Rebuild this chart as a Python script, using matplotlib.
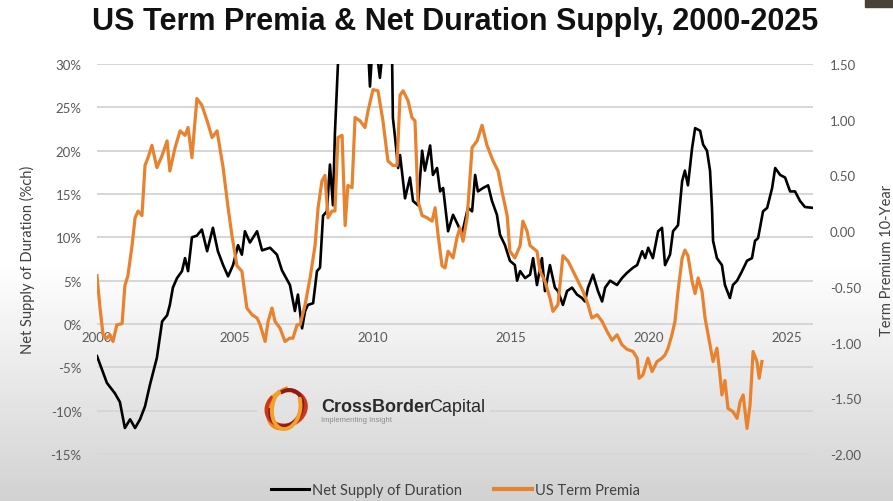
import numpy as np
import matplotlib.pyplot as plt
from matplotlib.patches import Rectangle, Arc

# Net supply of duration (%ch), left axis
supplyYears = [2000.00, 2000.36, 2000.65, 2000.83, 2001.01, 2001.20, 2001.38, 2001.56, 2001.74, 2001.92,
               2002.17, 2002.36, 2002.54, 2002.64, 2002.75, 2002.90, 2003.08, 2003.19, 2003.30, 2003.44,
               2003.62, 2003.80, 2003.99, 2004.20, 2004.38, 2004.57, 2004.75, 2004.93, 2005.11, 2005.25,
               2005.36, 2005.54, 2005.80, 2005.98, 2006.27, 2006.52, 2006.70, 2006.99, 2007.17, 2007.28,
               2007.43, 2007.54, 2007.64, 2007.83, 2007.97, 2008.08, 2008.19, 2008.33, 2008.44, 2008.55,
               2008.62, 2008.73, 2008.90, 2009.10, 2009.40, 2009.70, 2009.82, 2009.89, 2010.00, 2010.15,
               2010.25, 2010.40, 2010.60, 2010.69, 2010.72, 2010.80, 2010.91, 2010.98, 2011.16, 2011.34,
               2011.45, 2011.63, 2011.78, 2011.88, 2012.07, 2012.17, 2012.32, 2012.43, 2012.54, 2012.72,
               2012.90, 2013.08, 2013.22, 2013.33, 2013.44, 2013.59, 2013.70, 2013.80, 2013.99, 2014.17,
               2014.31, 2014.49, 2014.60, 2014.78, 2014.96, 2015.14, 2015.22, 2015.33, 2015.51, 2015.69,
               2015.80, 2015.94, 2016.12, 2016.23, 2016.41, 2016.59, 2016.70, 2016.88, 2017.03, 2017.21,
               2017.39, 2017.57, 2017.68, 2017.79, 2017.97, 2018.15, 2018.30, 2018.41, 2018.59, 2018.84,
               2019.02, 2019.20, 2019.42, 2019.57, 2019.75, 2019.86, 2019.97, 2020.14, 2020.33, 2020.47,
               2020.58, 2020.76, 2020.87, 2021.05, 2021.20, 2021.30, 2021.41, 2021.56, 2021.67, 2021.85,
               2021.96, 2022.10, 2022.21, 2022.28, 2022.32, 2022.46, 2022.64, 2022.75, 2022.93, 2023.04,
               2023.19, 2023.37, 2023.55, 2023.73, 2023.84, 2023.95, 2024.13, 2024.28, 2024.46, 2024.57,
               2024.75, 2024.93, 2025.11, 2025.29, 2025.47, 2025.65, 2025.94]
supplyValues = [-3.7, -6.8, -8.0, -9.0, -12.0, -11.0, -12.0, -11.0, -9.5, -7.0,
                -3.9, 0.3, 1.0, 2.2, 4.2, 5.3, 6.1, 7.6, 6.1, 10.0,
                10.2, 10.9, 8.4, 11.1, 8.4, 6.8, 5.5, 6.8, 9.1, 8.0,
                10.7, 9.4, 10.7, 8.5, 8.8, 8.0, 6.2, 4.5, 1.5, 3.4,
                -0.5, 1.5, 2.2, 2.4, 6.1, 6.5, 12.5, 13.0, 18.4, 13.7,
                22.0, 30.0, 36.0, 40.0, 42.0, 38.0, 32.0, 27.4, 33.0, 31.0,
                28.4, 33.0, 35.0, 31.0, 23.8, 21.5, 18.0, 19.5, 14.5, 16.9,
                14.2, 13.7, 20.0, 17.7, 20.6, 17.2, 18.0, 15.3, 15.7, 10.7,
                12.6, 11.4, 10.3, 11.9, 13.4, 13.0, 17.2, 15.3, 15.7, 16.0,
                14.2, 12.6, 10.3, 9.1, 7.3, 6.8, 5.0, 6.1, 5.3, 5.7,
                7.6, 4.5, 7.6, 3.8, 6.8, 4.2, 3.8, 2.2, 3.8, 4.2,
                3.4, 3.0, 2.6, 4.2, 5.7, 3.8, 2.6, 4.2, 5.0, 4.5,
                5.3, 5.9, 6.5, 6.8, 8.4, 7.6, 8.8, 7.6, 10.7, 11.1,
                6.8, 8.0, 10.7, 11.4, 16.5, 17.7, 16.0, 20.3, 22.6, 22.3,
                20.7, 20.0, 17.7, 13.4, 9.6, 7.6, 6.8, 4.5, 3.0, 4.5,
                5.0, 6.1, 7.3, 7.6, 9.6, 9.9, 13.0, 13.4, 15.7, 18.0,
                17.2, 16.9, 15.3, 15.3, 14.2, 13.5, 13.4]

# US term premia, 10-year (right axis)
premiaYears = [2000.00, 2000.11, 2000.22, 2000.36, 2000.47, 2000.58, 2000.72, 2000.91, 2001.01, 2001.12,
               2001.27, 2001.38, 2001.49, 2001.63, 2001.74, 2001.85, 2001.99, 2002.17, 2002.36, 2002.54,
               2002.64, 2002.83, 2003.01, 2003.19, 2003.30, 2003.44, 2003.62, 2003.80, 2003.99, 2004.17,
               2004.35, 2004.57, 2004.75, 2004.89, 2005.07, 2005.25, 2005.43, 2005.62, 2005.80, 2005.91,
               2006.09, 2006.20, 2006.34, 2006.45, 2006.63, 2006.81, 2006.99, 2007.10, 2007.25, 2007.36,
               2007.54, 2007.72, 2007.90, 2008.01, 2008.15, 2008.26, 2008.37, 2008.51, 2008.62, 2008.73,
               2008.88, 2008.99, 2009.09, 2009.24, 2009.35, 2009.53, 2009.71, 2009.82, 2010.00, 2010.18,
               2010.36, 2010.54, 2010.72, 2010.87, 2010.98, 2011.09, 2011.27, 2011.41, 2011.52, 2011.63,
               2011.78, 2011.96, 2012.14, 2012.25, 2012.36, 2012.50, 2012.61, 2012.72, 2012.90, 2013.04,
               2013.15, 2013.26, 2013.41, 2013.59, 2013.77, 2013.95, 2014.13, 2014.35, 2014.53, 2014.67,
               2014.86, 2014.96, 2015.14, 2015.33, 2015.43, 2015.58, 2015.69, 2015.94, 2016.05, 2016.23,
               2016.41, 2016.52, 2016.70, 2016.88, 2017.07, 2017.25, 2017.43, 2017.61, 2017.79, 2017.93,
               2018.12, 2018.30, 2018.48, 2018.66, 2018.84, 2019.02, 2019.20, 2019.42, 2019.57, 2019.64,
               2019.78, 2019.96, 2020.11, 2020.29, 2020.47, 2020.58, 2020.69, 2020.83, 2020.94, 2021.05,
               2021.20, 2021.30, 2021.41, 2021.56, 2021.67, 2021.78, 2021.92, 2022.03, 2022.21, 2022.32,
               2022.46, 2022.57, 2022.64, 2022.75, 2022.86, 2023.04, 2023.19, 2023.30, 2023.41, 2023.55,
               2023.66, 2023.77, 2023.91, 2023.99, 2024.09]
premiaValues = [-0.40, -0.69, -0.93, -0.96, -0.93, -0.99, -0.84, -0.83, -0.49, -0.40,
                -0.13, 0.12, 0.18, 0.14, 0.59, 0.66, 0.77, 0.57, 0.68, 0.81,
                0.54, 0.75, 0.90, 0.86, 0.93, 0.66, 1.19, 1.13, 0.99, 0.84,
                0.90, 0.57, 0.21, -0.04, -0.31, -0.36, -0.69, -0.75, -0.78, -0.84,
                -0.99, -0.81, -0.69, -0.81, -0.87, -0.99, -0.96, -0.96, -0.84, -0.84,
                -0.66, -0.42, -0.13, 0.21, 0.45, 0.50, 0.12, 0.18, 0.18, 0.84,
                0.86, 0.05, 0.41, 0.39, 1.02, 0.99, 0.93, 1.08, 1.27, 1.26,
                0.99, 0.63, 0.59, 0.59, 1.22, 1.26, 1.17, 1.02, 0.99, 0.27,
                0.14, 0.12, 0.09, 0.21, -0.04, -0.31, -0.33, -0.18, -0.24, -0.06,
                0.03, -0.09, 0.12, 0.75, 0.81, 0.95, 0.77, 0.63, 0.54, 0.36,
                0.14, -0.18, -0.24, -0.13, 0.09, 0.00, -0.13, -0.18, -0.36, -0.45,
                -0.60, -0.72, -0.66, -0.22, -0.27, -0.36, -0.45, -0.54, -0.66, -0.78,
                -0.75, -0.81, -0.90, -0.98, -0.93, -1.02, -1.06, -1.08, -1.14, -1.32,
                -1.29, -1.14, -1.26, -1.17, -1.14, -1.11, -1.05, -0.93, -0.81, -0.54,
                -0.24, -0.17, -0.22, -0.45, -0.56, -0.42, -0.54, -0.78, -1.02, -1.17,
                -1.05, -1.29, -1.47, -1.34, -1.59, -1.62, -1.68, -1.53, -1.47, -1.77,
                -1.56, -1.08, -1.17, -1.32, -1.17]

yearTicks = [2000, 2005, 2010, 2015, 2020, 2025]
leftTicks = [-15, -10, -5, 0, 5, 10, 15, 20, 25, 30]
rightTicks = [-2.0, -1.5, -1.0, -0.5, 0.0, 0.5, 1.0, 1.5]

textGray = "#595959"
orange = "#E8822E"

def shadeAt(rows):
    # white at the top, fading to light gray toward the bottom edge
    return np.where(rows < 260, 1.0, 1.0 - (rows - 260) / 242 * 0.18)

fig = plt.figure(figsize=(8.93, 5.02), dpi=100)

bg = fig.add_axes([0, 0, 1, 1], zorder=-10)
rows = np.arange(502)
bg.imshow(np.tile(shadeAt(rows)[:, None], (1, 10)), cmap="gray", vmin=0, vmax=1,
          aspect="auto", extent=[0, 1, 0, 1])
bg.add_patch(Rectangle((0.969, 0.984), 0.031, 0.016, color="#4a4238"))
bg.axis("off")

ax = fig.add_axes([0.1086, 0.0936, 0.8018, 0.7769])
ax.patch.set_alpha(0)
ax.plot(supplyYears, supplyValues, color="black", lw=1.9, zorder=3)
ax.set_xlim(2000, 2025.94)
ax.set_ylim(-15, 30)
ax.set_yticks(leftTicks)
ax.set_yticklabels([f"{t}%" for t in leftTicks])
ax.set_xticks(yearTicks)
ax.set_xticklabels([str(y) for y in yearTicks])
ax.grid(axis="y", color="#d6d6d6", lw=1.4)
ax.grid(axis="x", visible=False)
ax.set_axisbelow(True)
for s in ax.spines.values():
    s.set_visible(False)
ax.spines["bottom"].set_position(("data", 0))
ax.tick_params(axis="y", length=0, pad=11, labelsize=9.5, labelcolor=textGray)
ax.tick_params(axis="x", length=0, pad=5, labelsize=9.5, labelcolor=textGray)
for lab in ax.get_xticklabels() + ax.get_yticklabels():
    lab.set_fontfamily("Lato")
ax.set_ylabel("Net Supply of Duration (%ch)", fontsize=10.5, color="#404040", family="Lato")
ax.yaxis.set_label_coords(-0.087, 0.5)

ax2 = ax.twinx()
ax2.plot(premiaYears, premiaValues, color=orange, lw=2.3, zorder=4)
ax2.set_ylim(-2.0, 1.5)
ax2.set_yticks(rightTicks)
ax2.set_yticklabels([f"{t:.2f}" for t in rightTicks])
for s in ax2.spines.values():
    s.set_visible(False)
ax2.tick_params(axis="y", length=0, pad=12, labelsize=9.5, labelcolor=textGray)
for lab in ax2.get_yticklabels():
    lab.set_fontfamily("Lato")
ax2.set_ylabel("Term Premium 10-Year", fontsize=10.5, color="#404040", family="Lato")
ax2.yaxis.set_label_coords(1.094, 0.5)

fig.text(0.51, 0.956, "US Term Premia & Net Duration Supply, 2000-2025",
         ha="center", va="center", fontsize=22, fontweight="bold",
         family="Liberation Sans", color="#111111")

# logo block sitting over the gridline, filled with the same background gradient
boxRect = [0.288, 0.135, 0.26, 0.098]
logoBox = fig.add_axes(boxRect, zorder=5)
logoBox.set_xlim(0, 232)
logoBox.set_ylim(0, 49)
boxRows = np.arange(int(502 * (1 - boxRect[1] - boxRect[3])), int(502 * (1 - boxRect[1])))
logoBox.imshow(np.tile(shadeAt(boxRows)[:, None], (1, 10)), cmap="gray", vmin=0, vmax=1,
               aspect="auto", extent=[0, 232, 0, 49], zorder=0)
logoBox.axis("off")
swirl = [(40, 34, 20, "#f5b335"), (44, 32, 55, "#f08a1c"), (34, 40, 110, "#c9391e"),
         (30, 38, 150, "#8e1b16"), (42, 28, 80, "#f3a12a")]
for w, h, ang, col in swirl:
    logoBox.add_patch(Arc((29, 25), w, h, angle=ang, theta1=30, theta2=320, color=col, lw=2.8))
logoBox.text(64, 27, "CrossBorder", fontsize=13, fontweight="bold", color="#2b2b2b",
             family="Liberation Sans", va="center")
logoBox.text(172, 27, "Capital", fontsize=13, color="#2b2b2b", family="Liberation Sans", va="center")
logoBox.text(64, 14, "Implementing Insight", fontsize=5.5, color="#8a8a8a",
             family="Liberation Sans", va="center")

handles = [plt.Line2D([], [], color="black", lw=2.2), plt.Line2D([], [], color=orange, lw=3)]
fig.legend(handles, ["Net Supply of Duration", "US Term Premia"], loc="center",
           bbox_to_anchor=(0.51, 0.022), ncol=2, frameon=False, handlelength=2.6,
           handletextpad=0.2, columnspacing=2.2, prop={"family": "Lato", "size": 10.5},
           labelcolor="#404040")

fig.savefig("out.png", dpi=100)
